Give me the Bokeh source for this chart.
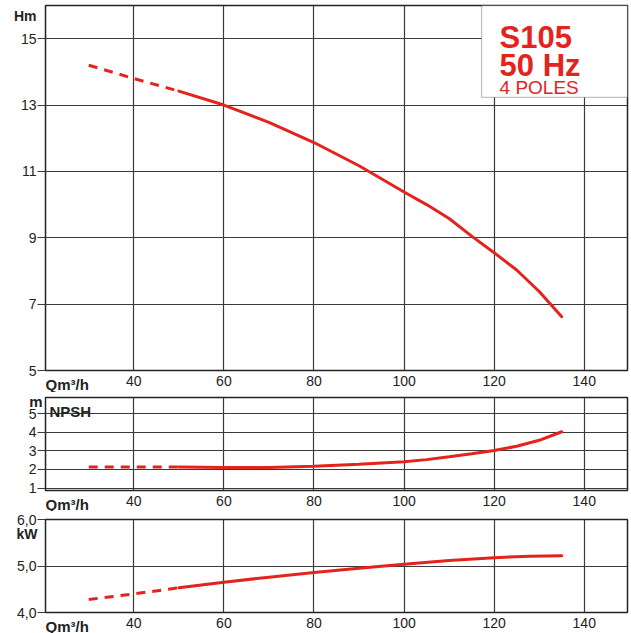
from bokeh.plotting import figure
from bokeh.models import FixedTicker, Label, BoxAnnotation, Range1d
from bokeh.layouts import column
from bokeh.embed import file_html
from bokeh.resources import INLINE

# ---------------- data ----------------
q_head = [30, 40, 50, 60, 70, 80, 90, 100, 105, 110, 115, 120, 125, 130, 135]
head = [14.2, 13.8, 13.42, 13.0, 12.48, 11.87, 11.17, 10.38, 10.0, 9.58, 9.05, 8.55, 8.03, 7.38, 6.62]

q_npsh = [30, 40, 50, 60, 70, 80, 90, 100, 105, 110, 115, 120, 125, 130, 135]
npsh = [2.14, 2.14, 2.14, 2.11, 2.11, 2.18, 2.28, 2.42, 2.53, 2.68, 2.84, 3.02, 3.25, 3.57, 4.03]

q_power = [30, 40, 50, 60, 70, 80, 90, 100, 110, 120, 128, 135]
power = [4.28, 4.40, 4.53, 4.65, 4.76, 4.86, 4.95, 5.04, 5.12, 5.18, 5.21, 5.22]

dashed_limit = 50  # curves are dashed below this flow

x_ticks = [40, 60, 80, 100, 120, 140]
head_ticks = [5, 7, 9, 11, 13, 15]
npsh_ticks = [1, 2, 3, 4, 5]
power_ticks = [4, 5, 6]
power_tick_labels = {4: "4,0", 5: "5,0", 6: "6,0"}
title_lines = ["S105", "50 Hz", "4 POLES"]
x_title = "Qm³/h"

# ---------------- styling ----------------
RED = "#e4231d"
GRID = "#3a3a3a"
TXT = "#222222"
FONT = "Liberation Sans"
X0, X1 = 20.4, 149.6
LEFT_PAD = 130            # room for the axis plus the side-panel labels
FRAME_LEFT = 45           # wanted page position of the frame's left edge
FRAME_W = 582
RIGHT_PAD = 4
SHIFT = LEFT_PAD - FRAME_LEFT


def side_label(p, **kw):
    # labels outside the frame live in a left side panel so they are not clipped
    p.add_layout(Label(text_font=FONT, text_color=TXT, text_font_style="bold", **kw), "left")


def make_panel(height, yr, yticks, top_b, bottom_b):
    p = figure(width=LEFT_PAD + FRAME_W + RIGHT_PAD + SHIFT, height=height,
               x_range=Range1d(X0, X1), y_range=Range1d(*yr),
               output_backend="svg", toolbar_location=None,
               min_border_left=LEFT_PAD, min_border_right=RIGHT_PAD,
               min_border_top=top_b, min_border_bottom=bottom_b,
               margin=(0, 0, 0, -SHIFT))
    p.outline_line_color = "#222222"
    p.outline_line_width = 1.5
    p.outline_line_alpha = 1
    p.background_fill_color = "white"
    p.border_fill_color = "white"

    xa = p.xaxis[0]
    xa.ticker = FixedTicker(ticks=x_ticks)
    xa.major_tick_out = 0
    xa.major_tick_in = 0
    xa.minor_tick_line_color = None
    xa.axis_line_color = None
    xa.major_label_standoff = 5
    xa.major_label_text_font = FONT
    xa.major_label_text_font_size = "14px"
    xa.major_label_text_color = TXT

    ya = p.yaxis[0]
    ya.ticker = FixedTicker(ticks=yticks)
    ya.major_tick_out = 8
    ya.major_tick_in = 0
    ya.major_tick_line_color = GRID
    ya.major_tick_line_width = 1.2
    ya.minor_tick_line_color = None
    ya.axis_line_color = None
    ya.major_label_standoff = 1
    ya.major_label_text_font = FONT
    ya.major_label_text_font_size = "14px"
    ya.major_label_text_color = TXT

    p.grid.grid_line_color = GRID
    p.grid.grid_line_width = 1.2
    p.grid.grid_line_alpha = 1

    side_label(p, x=X0, y=yr[0], text=x_title, text_font_size="15px",
               text_align="left", text_baseline="top", y_offset=-5)
    return p


def draw_curve(p, qs, vs):
    dq = [q for q in qs if q <= dashed_limit]
    dv = [v for q, v in zip(qs, vs) if q <= dashed_limit]
    sq = [q for q in qs if q >= dashed_limit]
    sv = [v for q, v in zip(qs, vs) if q >= dashed_limit]
    p.line(dq, dv, line_color=RED, line_width=3, line_dash="9 7")
    p.line(sq, sv, line_color=RED, line_width=3, line_cap="round")


# ---- top panel: head ----
head_range = (5, 16)
p1 = make_panel(392, head_range, head_ticks, 5, 22)
draw_curve(p1, q_head, head)
side_label(p1, x=X0, y=head_range[1], text="Hm", text_font_size="14px",
           text_align="right", text_baseline="alphabetic", x_offset=-9, y_offset=-10)
p1.add_layout(BoxAnnotation(left=117.2, bottom=13.23, fill_color="white", fill_alpha=1,
                            line_color="#333333", line_width=1.3))
sizes = ["31px", "31px", "19px"]
styles = ["bold", "bold", "normal"]
offs = [-31.5, -60, -82]
for t, s, st, o in zip(title_lines, sizes, styles, offs):
    p1.add_layout(Label(x=117.2, y=head_range[1], text=t, text_font=FONT, text_font_size=s,
                        text_font_style=st, text_color=RED, text_align="left",
                        text_baseline="alphabetic", x_offset=18, y_offset=o))

# ---- middle panel: NPSH ----
npsh_range = (0.87, 5.87)
p2 = make_panel(119, npsh_range, npsh_ticks, 5, 21)
draw_curve(p2, q_npsh, npsh)
side_label(p2, x=X0, y=npsh_range[1], text="m", text_font_size="15px",
           text_align="right", text_baseline="alphabetic", x_offset=-3, y_offset=-4)
p2.add_layout(Label(x=X0, y=npsh_range[1], text="NPSH", text_font=FONT, text_font_size="15px",
                    text_font_style="bold", text_color=TXT, text_align="left",
                    text_baseline="alphabetic", x_offset=4, y_offset=-13.5))

# ---- bottom panel: power ----
power_range = (4, 6)
p3 = make_panel(122, power_range, power_ticks, 8, 21)
p3.yaxis[0].major_label_overrides = power_tick_labels
draw_curve(p3, q_power, power)
side_label(p3, x=X0, y=power_range[1], text="kW", text_font_size="14px",
           text_align="right", text_baseline="alphabetic", x_offset=-8, y_offset=-14)

layout = column(p1, p2, p3, spacing=0)
open("out.html", "w").write(file_html(layout, INLINE))
